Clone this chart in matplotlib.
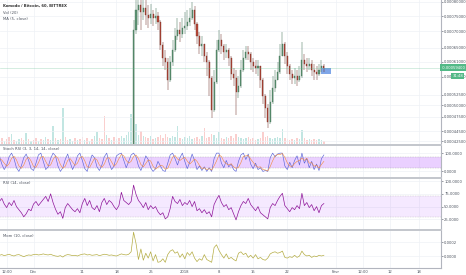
import matplotlib
matplotlib.use('Agg')
import matplotlib.pyplot as plt
import matplotlib.transforms as mtransforms
from matplotlib.ticker import NullLocator
import numpy as np

# Time axis: days since 1 Dec 2017, one sample every 12 hours
T_START = -7.0
T_STEP = 0.5
CANDLE_START = 19.0
FIRST_OPEN = 29000

# KMD/BTC candles in satoshi (1e-8 BTC), from 19 Dec to 30 Jan
closes = [29500, 31000, 36000, 70450, 77150, 78920, 76450, 77850, 75420, 74400,
          75760, 74400, 75080, 73060, 65810, 62040, 60930, 56150, 60930, 64340,
          68560, 70450, 69190, 71090, 71740, 73060, 74400, 77150, 72400, 68560,
          65510, 66110, 62610, 60930, 56660, 48990, 55640, 64340, 67330, 65510,
          63760, 64340, 62040, 57700, 56660, 53170, 54640, 58750, 62040, 63760,
          63180, 60930, 59830, 59290, 59830, 56150, 52210, 49440, 46390, 50810,
          54140, 56150, 58220, 62610, 66110, 62610, 59830, 57700, 56660, 57180,
          56150, 57180, 61480, 60380, 59830, 60380, 58750, 58220, 57700, 58750,
          59830, 59400]
highs = [30500, 32500, 40000, 73720, 83300, 86000, 84000, 83000, 80730, 78920,
         79280, 77150, 77850, 76450, 73720, 66720, 64340, 62040, 62610, 67330,
         71090, 74400, 73060, 74400, 76450, 77150, 77850, 80000, 78560, 73060,
         69820, 68560, 66110, 63760, 61480, 57180, 58750, 67330, 70450, 69190,
         66110, 66110, 64920, 62610, 59290, 58750, 57180, 61480, 64340, 65510,
         65510, 63760, 62040, 61480, 61480, 59830, 56660, 52690, 50350, 53650,
         57180, 58750, 60930, 66110, 69820, 66720, 63760, 60380, 58750, 59290,
         58750, 59830, 66720, 63180, 62040, 62040, 61480, 60380, 59830, 60380,
         61480, 60380]
lows = [28800, 29500, 30500, 35000, 69190, 72070, 70450, 73720, 72070, 71090,
        72400, 71740, 72400, 70450, 64340, 59830, 58750, 53650, 55640, 59830,
        63760, 67330, 66720, 67940, 69190, 70450, 71740, 73720, 70450, 66110,
        63180, 62610, 60930, 57180, 52210, 47250, 48550, 55140, 63760, 63180,
        61480, 62040, 59830, 56150, 54640, 47900, 51740, 54140, 58220, 61480,
        61480, 58750, 58220, 57700, 57180, 54140, 50350, 47250, 45150, 45970,
        50350, 53170, 56150, 57700, 62610, 60380, 57700, 56150, 55140, 55140,
        54640, 55640, 56660, 58750, 58220, 58750, 57180, 56150, 56150, 57180,
        58220, 58220]
last_price = 59400

# Volume (thousand KMD) over the whole window, and up/down before the candles
volume = [40, 60, 30, 50, 70, 100, 40, 30, 50, 60,
          40, 110, 50, 30, 40, 60, 30, 50, 40, 70,
          50, 40, 180, 60, 40, 50, 360, 70, 40, 50,
          30, 60, 40, 50, 70, 40, 60, 30, 50, 80,
          120, 60, 50, 280, 90, 60, 40, 70, 50, 60,
          80, 60, 90, 120, 300, 480, 200, 90, 130, 80,
          70, 60, 80, 50, 60, 70, 90, 60, 100, 70,
          60, 80, 70, 180, 60, 50, 70, 60, 80, 50,
          60, 70, 50, 80, 160, 60, 70, 100, 90, 60,
          120, 60, 50, 70, 60, 80, 60, 100, 70, 60,
          50, 60, 70, 50, 60, 40, 50, 60, 120, 70,
          80, 60, 50, 60, 70, 60, 150, 60, 50, 40,
          50, 40, 60, 50, 140, 60, 40, 50, 40, 50,
          40, 50, 40, 30]
vol_up_early = [1, 0, 1, 0, 0, 1, 0, 1, 1, 0,
                0, 1, 0, 1, 0, 0, 1, 0, 1, 1,
                0, 1, 1, 0, 1, 0, 1, 0, 0, 1,
                1, 0, 1, 0, 0, 1, 0, 1, 0, 1,
                1, 0, 0, 0, 1, 0, 1, 0, 1, 0,
                1, 1]

stoch_k = [85, 40, 10, 35, 80, 100, 70, 20, 0, 30,
           75, 95, 60, 15, 5, 45, 90, 100, 55, 10,
           25, 70, 100, 85, 30, 0, 20, 65, 95, 50,
           10, 40, 85, 100, 60, 15, 0, 50, 90, 75,
           25, 5, 35, 80, 100, 45, 10, 30, 85, 95,
           100, 60, 20, 55, 90, 100, 80, 30, 5, 40,
           85, 65, 20, 0, 15, 55, 30, 5, 0, 45,
           90, 100, 70, 35, 75, 100, 55, 15, 50, 95,
           60, 10, 30, 5, 25, 0, 20, 0, 70, 100,
           100, 45, 20, 60, 25, 40, 10, 0, 55, 90,
           100, 65, 95, 40, 15, 45, 10, 20, 0, 5,
           0, 75, 100, 80, 95, 100, 100, 30, 10, 50,
           20, 60, 85, 35, 100, 45, 70, 20, 55, 10,
           40, 5, 70, 90]
stoch_d = [70, 62, 45, 28, 42, 72, 83, 63, 30, 17,
           35, 67, 77, 57, 27, 22, 47, 78, 82, 55,
           30, 35, 65, 85, 72, 38, 17, 28, 60, 70,
           52, 33, 45, 75, 82, 58, 25, 22, 47, 72,
           63, 35, 22, 40, 72, 75, 52, 28, 42, 70,
           93, 85, 60, 45, 55, 82, 90, 70, 38, 25,
           43, 63, 57, 28, 12, 23, 33, 30, 12, 17,
           45, 78, 87, 68, 60, 70, 77, 57, 40, 53,
           68, 55, 33, 15, 20, 10, 15, 7, 30, 57,
           90, 82, 55, 42, 35, 42, 25, 17, 22, 48,
           82, 85, 87, 67, 50, 33, 23, 25, 10, 8,
           2, 27, 58, 85, 92, 92, 98, 77, 47, 30,
           27, 43, 55, 60, 73, 60, 72, 45, 48, 28,
           35, 18, 38, 55]

rsi = [60, 66, 55, 48, 58, 52, 62, 50, 44, 38,
       30, 36, 45, 42, 55, 60, 52, 58, 64, 70,
       60, 75, 58, 45, 35, 40, 27, 48, 56, 50,
       44, 40, 46, 38, 56, 66, 52, 62, 48, 44,
       52, 40, 58, 66, 54, 62, 58, 50, 44, 52,
       78, 62, 58, 54, 60, 92, 74, 62, 56, 48,
       58, 44, 52, 46, 50, 40, 34, 38, 26, 30,
       46, 70, 60, 56, 64, 52, 58, 54, 62, 50,
       60, 42, 46, 38, 44, 36, 40, 30, 54, 64,
       72, 58, 50, 54, 44, 48, 36, 24, 40, 52,
       60, 56, 66, 54, 48, 42, 50, 38, 34, 30,
       26, 48, 56, 52, 62, 70, 76, 52, 46, 40,
       48, 44, 52, 46, 76, 52, 58, 48, 54, 42,
       50, 38, 52, 56]

# Momentum (10) in satoshi
mom = [1000, 2000, 500, 1500, 2500, 1000, 0, 1500, 2000, 500,
       -1000, 500, 1500, 1000, 2000, 2500, 1500, 2000, 3000, 2000,
       1500, 2500, 1000, 0, -500, 500, -1500, 1000, 2000, 1500,
       500, 1000, 0, 1500, 2500, 3000, 1500, 2000, 1000, 1500,
       2000, 500, 1500, 2500, 2000, 1000, 1500, 500, 0, 1500,
       3000, 2000, 1500, 2500, 6000, 34000, 18000, -5000, 10000, -6000,
       4000, -3000, 6000, -7000, 2000, -9000, -8000, -4000, -9000, 2000,
       7000, 9000, 4000, 6000, -2000, 3000, -4000, 5000, 1000, 6000,
       -3000, -8000, -4000, -6000, 2000, -5000, -7000, -9000, 12000, 16000,
       8000, 2000, -3000, 3000, -4000, -2000, -5000, -7000, 4000, 6000,
       2000, 4000, -2000, 1000, -3000, 2000, -4000, -2000, -5000, -6000,
       -3000, 3000, 5000, 6000, 4000, 5000, 7000, -2000, -3000, -1000,
       -2000, 1000, -2000, 0, 7000, 2000, 0, 1000, -2000, 0,
       -1000, 1000, 0, 1000]

price_ticks = [80000, 75000, 70000, 65000, 61000, 57000, 52500, 50000,
               47500, 44500, 42500]
date_ticks = [-5.5, 0, 10, 17, 24, 31, 38, 45, 52, 62, 67.5, 73, 79]
date_labels = ['12:00', 'Déc', '11', '18', '25', '2018', '8', '15', '22',
               'Févr', '12:00', '12', '18']

UP = '#6ba583'
UP_EDGE = '#3d6b50'
DOWN = '#d75442'
DOWN_EDGE = '#6b2a22'
GRID = '#eef1f6'
TXT = '#4c525e'
SEP = '#c3c6cc'
FS = 2.7

t = T_START + T_STEP * np.arange(len(rsi))
tc = CANDLE_START + T_STEP * np.arange(len(closes))
c = np.array(closes)
o = np.array([FIRST_OPEN] + closes[:-1])
h = np.array(highs)
lo = np.array(lows)
up = c >= o

H = 275.0
W = 441 / 466


def rect(top, bottom):
    return [0, 1 - bottom / H, W, (bottom - top) / H]


fig = plt.figure(figsize=(4.66, 2.75), dpi=100)
ax_vol = fig.add_axes(rect(0, 143.5))
ax = fig.add_axes(rect(0, 143.5), sharex=ax_vol)
ax_st = fig.add_axes(rect(145, 176.5), sharex=ax_vol)
ax_rsi = fig.add_axes(rect(177.5, 228.5), sharex=ax_vol)
ax_mom = fig.add_axes(rect(229.5, 268), sharex=ax_vol)
panes = [ax, ax_st, ax_rsi, ax_mom]

ax_vol.set_xlim(-6.87, 83.5)

# volume overlay
vol_up = list(vol_up_early) + list(up.astype(int))
vcol = ['#26a69a' if u else '#ef5350' for u in vol_up]
ax_vol.bar(t, volume, width=0.3, color=vcol, alpha=0.28, linewidth=0)
ax_vol.set_ylim(0, 1435)
ax_vol.axis('off')

ax.patch.set_visible(False)
ax.set_yscale('log')
ax.set_ylim(42070, 80730)
ax.vlines(tc, lo, h, colors=np.where(up, UP_EDGE, DOWN_EDGE), linewidth=0.35)
ax.bar(tc, np.abs(c - o), bottom=np.minimum(o, c), width=0.22,
       color=np.where(up, UP, DOWN), edgecolor=np.where(up, UP_EDGE, DOWN_EDGE),
       linewidth=0.25)
ax.axhline(last_price, color='#53b987', lw=0.5, alpha=0.35)
ax.fill_between([59.0, 61.0], 57700, 59290, color='#7fa6e8', lw=0)
ax.set_yticks(price_ticks)
ax.set_yticklabels([f'{v * 1e-8:.8f}' for v in price_ticks])
ax.yaxis.set_minor_locator(NullLocator())

# Stoch RSI
ax_st.fill_between([-10, 90], 20, 80, color='#9915ff', alpha=0.2, lw=0)
ax_st.axhline(80, color='#9b9b9b', lw=0.3, ls=(0, (2, 2)))
ax_st.axhline(20, color='#9b9b9b', lw=0.3, ls=(0, (2, 2)))
ax_st.plot(t, stoch_k, color='#5a63d8', lw=0.45)
ax_st.plot(t, stoch_d, color='#f08a3a', lw=0.4)
ax_st.set_ylim(-27.8, 144.4)
ax_st.set_yticks([0, 100])
ax_st.set_yticklabels(['0.0000', '100.0000'])

# RSI
ax_rsi.fill_between([-10, 90], 30, 70, color='#9915ff', alpha=0.09, lw=0)
ax_rsi.axhline(70, color='#b0b0b0', lw=0.3, ls=(0, (2, 2)))
ax_rsi.axhline(30, color='#b0b0b0', lw=0.3, ls=(0, (2, 2)))
ax_rsi.plot(t, rsi, color='#8e1599', lw=0.5)
ax_rsi.set_ylim(7.2, 106.9)
ax_rsi.set_yticks([25, 50, 75, 100])
ax_rsi.set_yticklabels(['25.0000', '50.0000', '75.0000', '100.0000'])

# Momentum
ax_mom.plot(t, mom, color='#b5ad45', lw=0.5)
ax_mom.set_ylim(-17140, 37860)
ax_mom.set_yticks([0, 20000])
ax_mom.set_yticklabels(['0.0000', '0.0002'])

for a in panes:
    a.yaxis.tick_right()
    a.tick_params(axis='y', labelsize=FS, colors=TXT, length=1.5, width=0.4,
                  pad=0.8)
    a.tick_params(axis='x', length=0)
    a.set_xticks(date_ticks)
    a.grid(True, color=GRID, lw=0.5)
    a.set_axisbelow(True)
    for s in ['left', 'top', 'bottom']:
        a.spines[s].set_visible(False)
    a.spines['right'].set_color('#b2b5be')
    a.spines['right'].set_linewidth(0.8)
for a in panes[:-1]:
    a.tick_params(axis='x', labelbottom=False)
for a in panes[1:]:
    a.spines['top'].set_visible(True)
    a.spines['top'].set_color(SEP)
    a.spines['top'].set_linewidth(1.4)
ax_mom.spines['bottom'].set_visible(True)
ax_mom.spines['bottom'].set_color('#b2b5be')
ax_mom.spines['bottom'].set_linewidth(0.8)
ax_mom.set_xticklabels(date_labels)
ax_mom.tick_params(axis='x', labelsize=FS, colors=TXT, pad=1.2)

# last price tag and bar countdown on the price scale
tr = mtransforms.blended_transform_factory(ax.transAxes, ax.transData)
ax.text(1.0, last_price, f' {last_price * 1e-8:.8f}', transform=tr,
        ha='left', va='center', fontsize=FS, color='white',
        bbox=dict(boxstyle='square,pad=0.35', fc='#53b987', ec='none'))
fig.text(0.994, 1 - 76.0 / H, '31:48', ha='right', va='center', fontsize=FS,
         color='white', bbox=dict(boxstyle='square,pad=0.3', fc='#53b987',
                                  ec='none'))

# pane titles
fig.text(3 / 466, 1 - 5.7 / H, 'Komodo / Bitcoin, 60, BITTREX', fontsize=FS,
         color='#333333', fontweight='bold', va='center')
fig.text(3 / 466, 1 - 12.7 / H, 'Vol (20)', fontsize=FS, color=TXT,
         va='center')
fig.text(3 / 466, 1 - 19.3 / H, 'MA (5, close)', fontsize=FS, color=TXT,
         va='center')
fig.text(3 / 466, 1 - 149.3 / H, 'Stoch RSI (3, 3, 14, 14, close)',
         fontsize=FS, color=TXT, va='center')
fig.text(3 / 466, 1 - 183.3 / H, 'RSI (14, close)', fontsize=FS, color=TXT,
         va='center')
fig.text(3 / 466, 1 - 235.7 / H, 'Mom (10, close)', fontsize=FS, color=TXT,
         va='center')

fig.savefig('out.png', dpi=100)
